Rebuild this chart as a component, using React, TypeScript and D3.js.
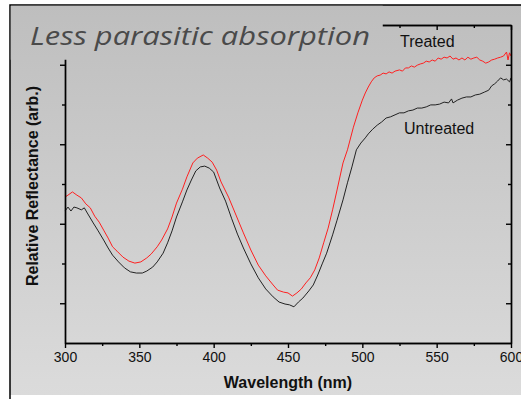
import React, { useEffect, useRef } from "react";
import * as d3 from "d3";

// wavelength (nm) and relative reflectance
const treatedNm = [300, 302, 305, 308, 311, 314, 317, 320, 323, 326, 329, 332, 335, 339, 343, 347, 351, 355, 358, 362, 365, 369, 372, 375, 379, 382, 386, 389, 393, 396, 399, 402, 405, 410, 415, 420, 425, 430, 435, 440, 443, 447, 450, 453, 456, 459, 462, 465, 468, 471, 474, 477, 480, 483, 487, 490, 494, 497, 500, 502, 504, 506, 508, 510, 512, 514, 516, 518, 520, 522, 525, 527, 529, 531, 533, 535, 537, 539, 541, 543, 545, 547, 549, 551, 553, 555, 557, 559, 561, 563, 565, 567, 569, 571, 573, 575, 577, 579, 581, 583, 585, 587, 589, 591, 593, 595, 597, 598, 599, 600];
const treatedVal = [3.67, 3.72, 3.8, 3.72, 3.65, 3.5, 3.4, 3.19, 3.04, 2.84, 2.64, 2.42, 2.31, 2.16, 2.06, 2.01, 2.04, 2.14, 2.24, 2.42, 2.59, 2.87, 3.17, 3.52, 3.87, 4.18, 4.53, 4.65, 4.73, 4.65, 4.55, 4.35, 4.05, 3.67, 3.22, 2.77, 2.34, 1.96, 1.69, 1.46, 1.33, 1.28, 1.26, 1.18, 1.26, 1.36, 1.51, 1.64, 1.84, 2.14, 2.52, 2.89, 3.35, 3.85, 4.53, 4.86, 5.43, 5.79, 6.11, 6.29, 6.44, 6.57, 6.67, 6.72, 6.74, 6.79, 6.77, 6.82, 6.79, 6.84, 6.87, 6.84, 6.92, 6.92, 6.97, 6.94, 6.99, 7.02, 7.04, 7.09, 7.07, 7.12, 7.09, 7.17, 7.14, 7.19, 7.17, 7.22, 7.14, 7.17, 7.12, 7.17, 7.12, 7.19, 7.14, 7.17, 7.19, 7.12, 7.09, 7.04, 7.07, 7.12, 7.14, 7.17, 7.19, 7.22, 7.32, 7.12, 7.3, 7.22];

const untreatedNm = [300, 302, 304, 306, 308, 311, 313, 315, 319, 322, 326, 329, 332, 336, 340, 344, 348, 352, 355, 359, 362, 366, 369, 372, 375, 379, 382, 385, 388, 391, 394, 397, 400, 404, 408, 412, 416, 420, 425, 430, 435, 440, 444, 448, 451, 454, 457, 460, 464, 467, 470, 473, 476, 480, 483, 487, 490, 493, 496, 499, 502, 504, 507, 510, 513, 516, 519, 522, 525, 528, 531, 534, 537, 540, 543, 546, 549, 552, 555, 558, 560, 561, 564, 567, 570, 573, 576, 579, 582, 585, 587, 589, 591, 593, 595, 597, 599, 600];
const untreatedVal = [3.32, 3.42, 3.32, 3.42, 3.4, 3.35, 3.4, 3.27, 3.02, 2.84, 2.59, 2.39, 2.21, 2.04, 1.89, 1.79, 1.76, 1.76, 1.81, 1.91, 2.04, 2.26, 2.52, 2.82, 3.17, 3.55, 3.85, 4.1, 4.33, 4.43, 4.45, 4.4, 4.3, 3.9, 3.57, 3.14, 2.74, 2.39, 1.99, 1.64, 1.36, 1.16, 1.03, 0.98, 0.96, 0.91, 1.03, 1.13, 1.31, 1.46, 1.71, 1.99, 2.26, 2.72, 3.09, 3.6, 4.03, 4.43, 4.86, 5.03, 5.16, 5.26, 5.38, 5.48, 5.56, 5.66, 5.69, 5.74, 5.79, 5.79, 5.84, 5.86, 5.91, 5.91, 5.94, 5.99, 5.99, 6.01, 6.06, 6.04, 6.14, 6.04, 6.11, 6.16, 6.19, 6.19, 6.24, 6.26, 6.31, 6.36, 6.47, 6.52, 6.59, 6.67, 6.62, 6.64, 6.57, 6.67];

const xMajor = [300, 350, 400, 450, 500, 550, 600];
const xMinor = [325, 375, 425, 475, 525, 575];
const yMajor = [1, 3, 5, 7];
const yMinor = [2, 4, 6];

const W = 521;
const H = 399;

export default function App() {
  const ref = useRef(null);

  useEffect(() => {
    const svg = d3.select(ref.current);
    svg.selectAll("*").remove();

    const x = d3.scaleLinear().domain([300, 600]).range([65, 511]);
    const y = d3.scaleLinear().domain([0, 8]).range([343, 25]);

    const defs = svg.append("defs");
    const grad = defs
      .append("linearGradient")
      .attr("id", "bg")
      .attr("gradientUnits", "userSpaceOnUse")
      .attr("x1", 0)
      .attr("y1", 5)
      .attr("x2", 0)
      .attr("y2", 395);
    grad.append("stop").attr("offset", 0).attr("stop-color", "#bebebe");
    grad.append("stop").attr("offset", 1).attr("stop-color", "#dbdbdb");

    svg.append("rect").attr("width", W).attr("height", H).attr("fill", "#fff");
    svg
      .append("rect")
      .attr("x", 10)
      .attr("y", 5)
      .attr("width", W)
      .attr("height", 390)
      .attr("fill", "url(#bg)");
    // frame edges
    svg
      .append("path")
      .attr("d", `M10,${H}V5H${W}`)
      .attr("fill", "none")
      .attr("stroke", "#000")
      .attr("stroke-width", 1.5);

    const line = d3
      .line()
      .x((d) => x(d[0]))
      .y((d) => y(d[1]));

    const untreated = untreatedNm.map((n, i) => [n, untreatedVal[i]]);
    const treated = treatedNm.map((n, i) => [n, treatedVal[i]]);

    svg
      .append("path")
      .attr("d", line(untreated))
      .attr("fill", "none")
      .attr("stroke", "#222")
      .attr("stroke-width", 1);
    svg
      .append("path")
      .attr("d", line(treated))
      .attr("fill", "none")
      .attr("stroke", "#ff2020")
      .attr("stroke-width", 1);

    // axes
    const styleAxis = (g) => {
      g.selectAll("path, line").attr("stroke", "#000").attr("stroke-width", 1.4);
      g.selectAll("text")
        .attr("fill", "#111")
        .style("font-family", "Arial, 'Liberation Sans', sans-serif")
        .style("font-size", "14px");
    };

    const bottom = svg.append("g").attr("transform", "translate(0,343)");
    bottom
      .append("g")
      .call(d3.axisBottom(x).tickValues(xMajor).tickSize(5).tickSizeOuter(0).tickPadding(4))
      .call(styleAxis);
    bottom
      .append("g")
      .call(d3.axisBottom(x).tickValues(xMinor).tickSize(3).tickSizeOuter(0).tickFormat(() => ""))
      .call(styleAxis);

    const top = svg.append("g").attr("transform", "translate(0,25)");
    top
      .append("g")
      .call(d3.axisBottom(x).tickValues(xMajor).tickSize(5).tickSizeOuter(0).tickFormat(() => ""))
      .call(styleAxis);
    top
      .append("g")
      .call(d3.axisBottom(x).tickValues(xMinor).tickSize(3).tickSizeOuter(0).tickFormat(() => ""))
      .call(styleAxis);

    [
      { pos: 65, axis: d3.axisLeft },
      { pos: 511, axis: d3.axisLeft },
    ].forEach(({ pos, axis }) => {
      const g = svg.append("g").attr("transform", `translate(${pos},0)`);
      g.append("g")
        .call(axis(y).tickValues(yMajor).tickSize(5).tickSizeOuter(0).tickFormat(() => ""))
        .call(styleAxis);
      g.append("g")
        .call(axis(y).tickValues(yMinor).tickSize(3).tickSizeOuter(0).tickFormat(() => ""))
        .call(styleAxis);
    });

    // title box hides the top-left corner of the frame
    svg
      .append("rect")
      .attr("x", 10.75)
      .attr("y", 5.75)
      .attr("width", 372)
      .attr("height", 54)
      .attr("fill", "url(#bg)");
    svg
      .append("text")
      .attr("x", 30)
      .attr("y", 45)
      .attr("textLength", 340)
      .attr("lengthAdjust", "spacingAndGlyphs")
      .attr("fill", "#4a4a4a")
      .style("font-family", "'Open Sans', sans-serif")
      .style("font-style", "italic")
      .style("font-size", "26px")
      .text("Less parasitic absorption");

    const label = (t, tx, ty) =>
      svg
        .append("text")
        .attr("x", tx)
        .attr("y", ty)
        .attr("fill", "#111")
        .style("font-family", "Arial, 'Liberation Sans', sans-serif")
        .style("font-size", "16px")
        .text(t);
    label("Treated", 400, 47);
    label("Untreated", 404, 134);

    svg
      .append("text")
      .attr("x", 288)
      .attr("y", 388)
      .attr("text-anchor", "middle")
      .attr("fill", "#111")
      .style("font-family", "Arial, 'Liberation Sans', sans-serif")
      .style("font-size", "16px")
      .style("font-weight", "bold")
      .text("Wavelength (nm)");

    svg
      .append("text")
      .attr("transform", "translate(38,186) rotate(-90)")
      .attr("text-anchor", "middle")
      .attr("fill", "#111")
      .style("font-family", "Arial, 'Liberation Sans', sans-serif")
      .style("font-size", "16px")
      .style("font-weight", "bold")
      .text("Relative Reflectance (arb.)");
  }, []);

  return (
    <div style={{ position: "fixed", left: 0, top: 0 }}>
      <svg ref={ref} width={W} height={H} style={{ display: "block" }} />
    </div>
  );
}
